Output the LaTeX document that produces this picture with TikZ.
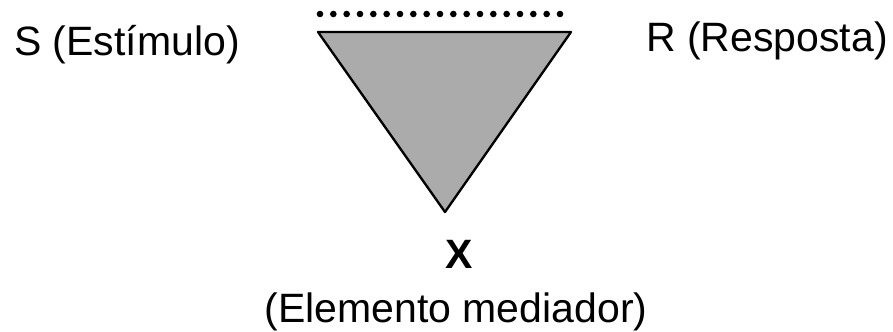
\documentclass[tikz,border=0pt]{standalone}
\usepackage{fontspec}
\setmainfont{Liberation Sans}
\usetikzlibrary{calc}
\begin{document}
\begin{tikzpicture}[x=0.03cm,y=-0.03cm,semithick]
			\tikzset{every node/.style={font=\fontsize{35}{40}\selectfont,inner sep=0pt,anchor=base}}
			\useasboundingbox (0,0) rectangle (893,331);
			\path 
			(318,32)coordinate(L)
			(571,32)coordinate(R)
			(445,212)coordinate(X)
			(320,14)coordinate(D1)
			(560,14)coordinate(D2)
			;
			\filldraw[fill=black!33,line width=2pt,line join=round] (L)--(R)--(X)--cycle;
			\foreach \i in {0,...,18}\fill ($(D1)!\i/18!(D2)$) circle (3.3);
			
			\node (estimulo) at (127,55) {S (Estímulo)};
			\node (resposta) at (767,51) {R (Resposta)};
			\node[font=\fontsize{35}{40}\selectfont\bfseries] (x) at (459,268) {X};
			\node (mediador) at (456,322) {(Elemento mediador)};
		\end{tikzpicture}
\end{document}
